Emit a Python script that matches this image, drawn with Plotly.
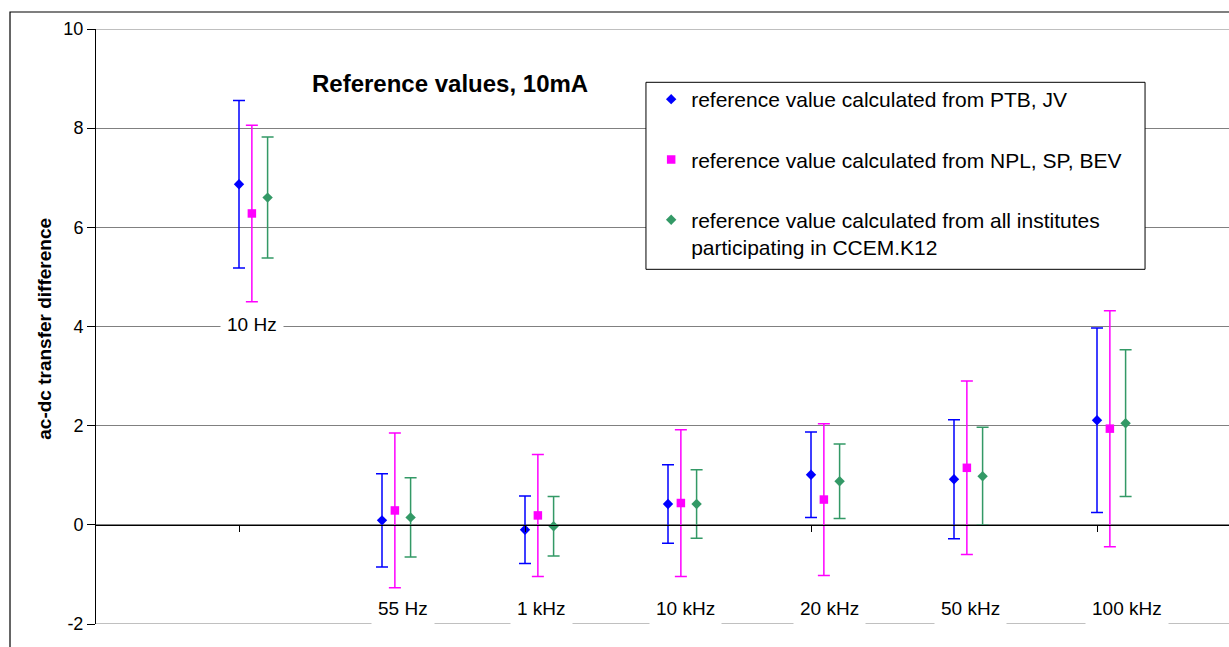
import plotly.graph_objects as go

# ---- data ----
categories = ["10 Hz", "55 Hz", "1 kHz", "10 kHz", "20 kHz", "50 kHz", "100 kHz"]
ptb_jv = [6.87, 0.09, -0.10, 0.42, 1.01, 0.92, 2.11]
ptb_jv_err = [1.69, 0.94, 0.68, 0.79, 0.86, 1.20, 1.86]
npl_sp_bev = [6.28, 0.29, 0.19, 0.44, 0.51, 1.15, 1.94]
npl_sp_bev_err = [1.78, 1.56, 1.23, 1.48, 1.53, 1.75, 2.38]
all_inst = [6.60, 0.15, -0.03, 0.42, 0.88, 0.98, 2.05]
all_inst_err = [1.22, 0.80, 0.60, 0.69, 0.75, 0.99, 1.48]
label_y = [4, -2, -2, -2, -2, -2, -2]
y_ticks = [-2, 0, 2, 4, 6, 8, 10]
y_ticktext = ["-2", "0", "2", "4", "6", "8", "10"]

# ---- layout helpers (positions) ----
idx = list(range(1, len(categories) + 1))
offsets = [0.0, 0.09, 0.2]
label_dx = [0.09, 0.15, 0.115, 0.12, 0.13, 0.115, 0.21]

FONT = "Arial, Liberation Sans, sans-serif"
series = [
    ("reference value calculated from PTB, JV", ptb_jv, ptb_jv_err, "#0000FF", "diamond", 8),
    ("reference value calculated from NPL, SP, BEV", npl_sp_bev, npl_sp_bev_err, "#FF00FF", "square", 8.5),
    ("reference value calculated from all institutes<br>participating in CCEM.K12", all_inst, all_inst_err, "#339966", "diamond", 8),
]

fig = go.Figure()
for k, (name, vals, errs, col, sym, sz) in enumerate(series):
    fig.add_trace(go.Scatter(
        x=[i + offsets[k] for i in idx], y=vals, mode="markers", name=name,
        legendgroup=f"g{k}",
        marker=dict(color=col, symbol=sym, size=sz, line=dict(width=0)),
        error_y=dict(type="data", array=errs, visible=True, color=col, thickness=1.5, width=6),
    ))

# category labels
for i, lab, ly, dx in zip(idx, categories, label_y, label_dx):
    if ly > -2:
        fig.add_annotation(x=i + dx, y=ly, text=lab, showarrow=False, xref="x", yref="y",
                           xanchor="center", yanchor="middle",
                           font=dict(family=FONT, size=19, color="black"),
                           bgcolor="white", borderpad=6, yshift=2)
    else:
        fig.add_annotation(x=i + dx, y=ly, text=lab, showarrow=False, xref="x", yref="y",
                           xanchor="center", yanchor="bottom", yshift=-2,
                           font=dict(family=FONT, size=19, color="black"),
                           bgcolor="white", borderpad=6)

# grid lines at the range ends (plotly hides them)
for yv in (y_ticks[0], y_ticks[-1]):
    fig.add_shape(type="line", xref="paper", yref="y", x0=0, x1=1, y0=yv, y1=yv,
                  line=dict(color="#808080", width=1), layer="below")

# title
fig.add_annotation(x=0.3124, y=0.909, xref="paper", yref="paper", showarrow=False,
                   xanchor="center", yanchor="middle",
                   text="<b>Reference values, 10mA</b>",
                   font=dict(family=FONT, size=24, color="black"))
# y-axis title
fig.add_annotation(x=-0.0455, y=0.497, xref="paper", yref="paper", showarrow=False,
                   xanchor="center", yanchor="middle",
                   text="<b>ac-dc transfer difference</b>", textangle=-90,
                   font=dict(family=FONT, size=19, color="black"))

# legend box
fig.add_shape(type="rect", xref="paper", yref="paper", x0=0.4854, x1=0.9259, y0=0.5961, y1=0.9104,
              fillcolor="white", line=dict(color="black", width=1), layer="above")
# outer chart border
fig.add_shape(type="rect", xref="paper", yref="paper", x0=-0.0759, x1=1.05, y0=-0.1, y1=1.0286,
              fillcolor="rgba(0,0,0,0)", line=dict(color="black", width=1.2), layer="above")

fig.update_layout(
    width=1229, height=647,
    margin=dict(l=96, r=0, t=29, b=23),
    paper_bgcolor="white", plot_bgcolor="white",
    showlegend=True,
    legend=dict(x=0.49, y=0.916, xanchor="left", yanchor="top",
                bgcolor="rgba(0,0,0,0)", borderwidth=0,
                font=dict(family=FONT, size=21, color="black"),
                tracegroupgap=30, valign="top", traceorder="grouped"),
    xaxis=dict(range=[0, 1133 / 143], showgrid=False, zeroline=False,
               anchor="free", position=2 / 12, showline=True, linecolor="black", linewidth=1,
               tickvals=[1, 3, 5, 7], ticks="outside", ticklen=6, tickcolor="black",
               showticklabels=False),
    yaxis=dict(range=[-2, 10], tickvals=y_ticks, ticktext=y_ticktext,
               showgrid=True, gridcolor="#808080", gridwidth=1,
               zeroline=False, showline=True, linecolor="black", linewidth=1,
               ticks="outside", ticklen=8, tickcolor="black",
               tickfont=dict(family=FONT, size=18, color="black")),
)

fig.write_html("out.html")
